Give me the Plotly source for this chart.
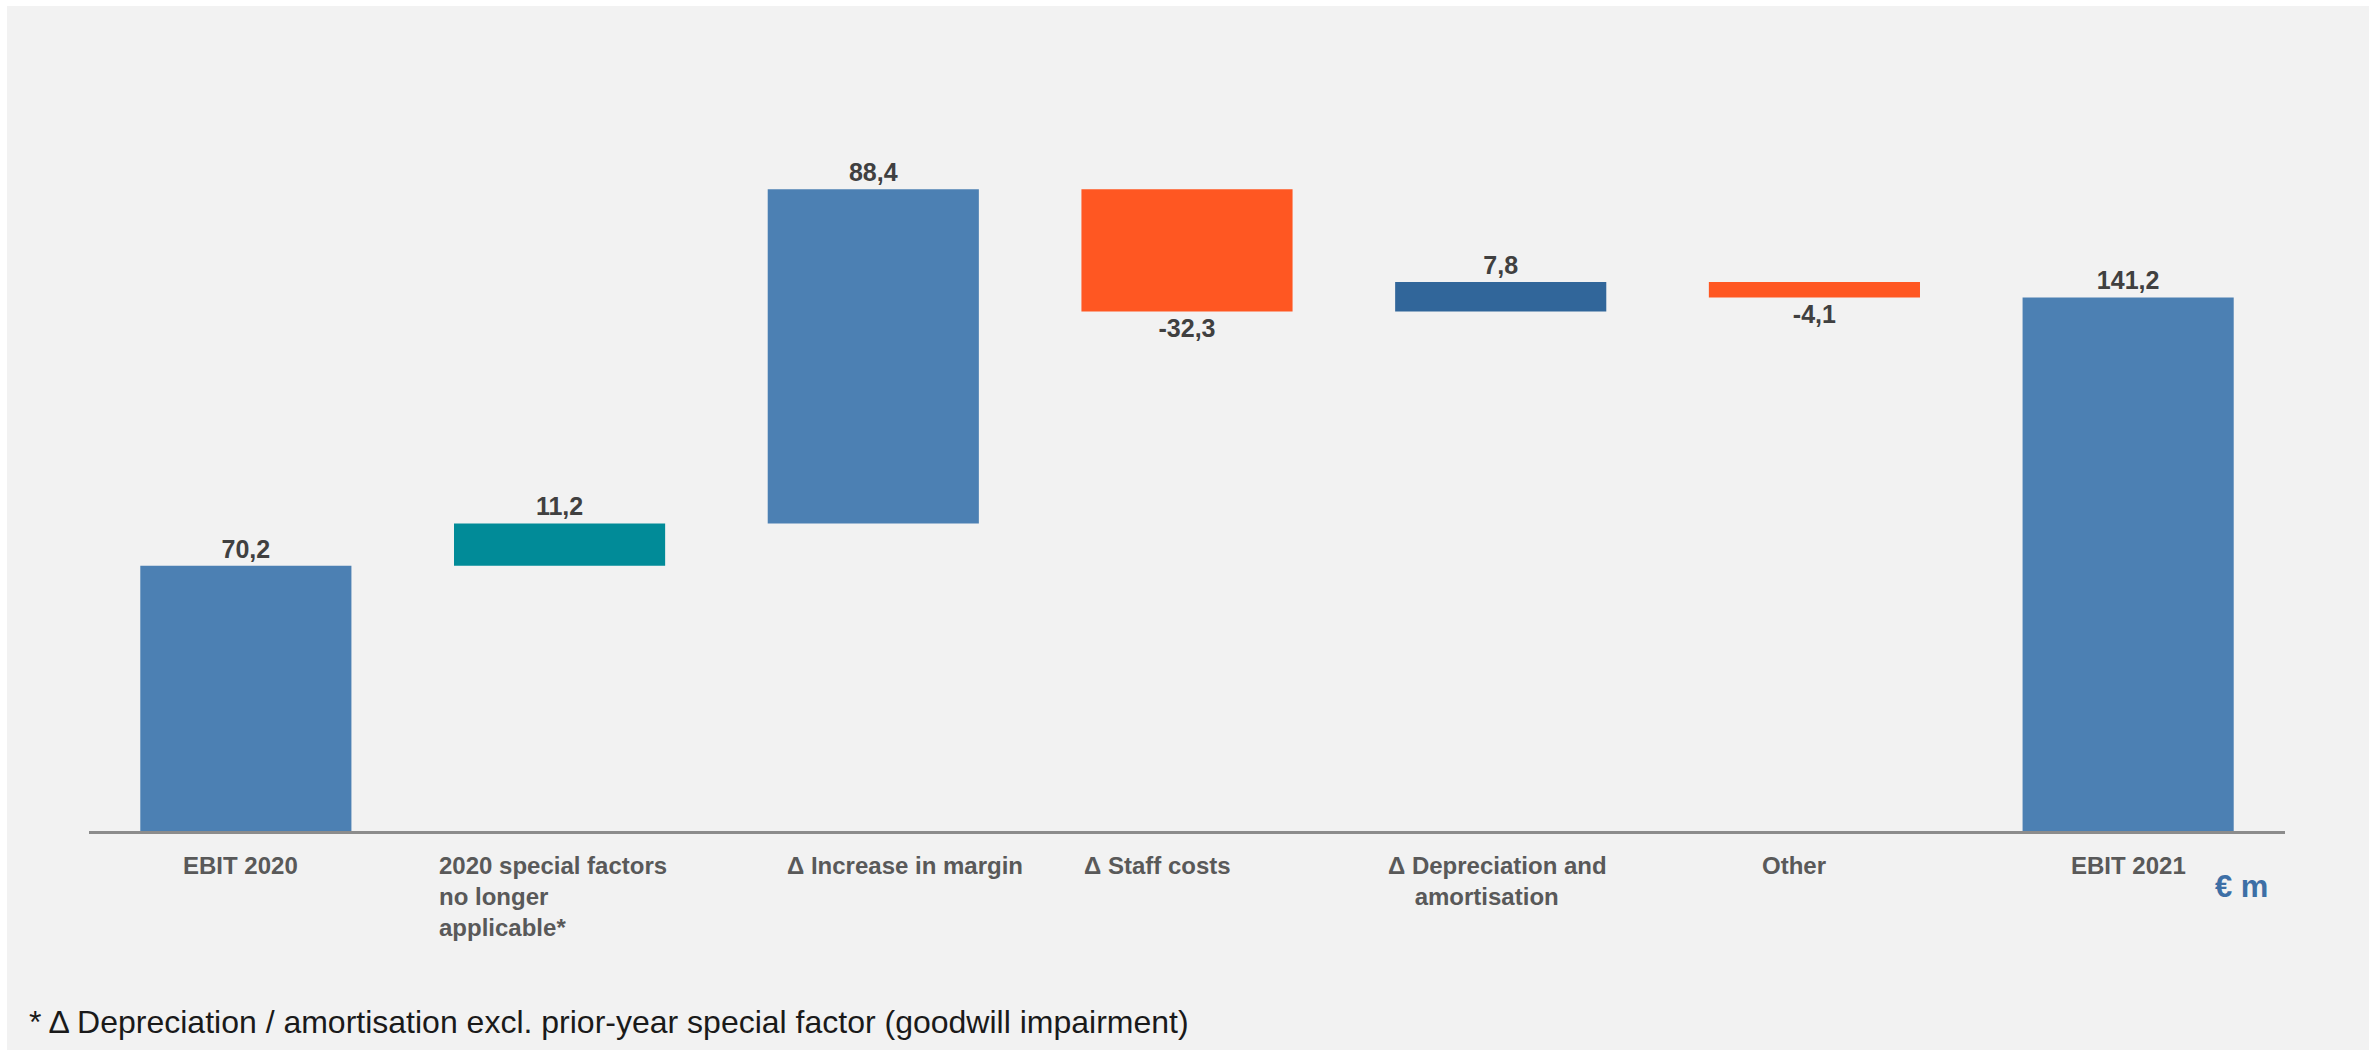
import plotly.graph_objects as go

# ---- data ----
categories = [
    "EBIT 2020",
    "2020 special factors<br>no longer<br>applicable*",
    "Δ Increase in margin",
    "Δ Staff costs",
    "Δ Depreciation and<br>\u00a0\u00a0\u00a0\u00a0amortisation",
    "Other",
    "EBIT 2021",
]
values = [70.2, 11.2, 88.4, -32.3, 7.8, -4.1, 141.2]
kinds = ["total", "delta", "delta", "delta", "delta", "delta", "total"]
bar_colors = ["#4c80b3", "#018b98", "#4c80b3", "#ff5722", "#31669a", "#ff5722", "#4c80b3"]
footnote = "* Δ Depreciation / amortisation excl. prior-year special factor (goodwill impairment)"
unit_label = "€ m"

# ---- style ----
label_xshift = [-5, -7, 32, -30, -3, -20, 0]
W, H = 2379, 1054
L, R, T, B = 89, 94, 113, 223
PW, PH = W - L - R, H - T - B
FONT = "Liberation Sans, Arial, sans-serif"

# ---- build waterfall via base + height ----
bases, heights = [], []
running = 0.0
for v, k in zip(values, kinds):
    if k == "total":
        bases.append(0.0)
        heights.append(v)
        running = v
    else:
        bases.append(running)
        heights.append(v)
        running += v

texts = [f"{v:.1f}".replace(".", ",") for v in values]
xs = list(range(len(categories)))

fig = go.Figure()
fig.add_trace(go.Bar(
    x=xs, y=heights, base=bases,
    marker=dict(color=bar_colors, line=dict(width=0)),
    width=0.673,
    text=texts, textposition="outside",
    textfont=dict(family=FONT, size=25, color="#404040", weight="bold"),
    cliponaxis=False,
    hoverinfo="skip",
))

def px_to_paper_x(px):
    return (px - L) / PW

def px_to_paper_y(py):
    return (H - B - py) / PH

shapes = [dict(
    type="rect", xref="paper", yref="paper", layer="below",
    x0=px_to_paper_x(7), x1=px_to_paper_x(2369),
    y0=px_to_paper_y(1050), y1=px_to_paper_y(6),
    fillcolor="#f2f2f2", line=dict(width=0),
)]

annotations = []
for i, (cat, sh) in enumerate(zip(categories, label_xshift)):
    annotations.append(dict(
        x=i, xref="x", y=px_to_paper_y(850), yref="paper",
        xanchor="center", yanchor="top", align="left",
        text=f"<b>{cat}</b>", showarrow=False, xshift=sh,
        font=dict(family=FONT, size=24, color="#595959"),
    ))
annotations.append(dict(
    x=px_to_paper_x(27), xref="paper", y=px_to_paper_y(1022), yref="paper",
    xanchor="left", yanchor="middle", text=footnote, showarrow=False,
    font=dict(family=FONT, size=32, color="#1a1a1a"),
))
annotations.append(dict(
    x=px_to_paper_x(2241), xref="paper", y=px_to_paper_y(886), yref="paper",
    xanchor="center", yanchor="middle", text=f"<b>{unit_label}</b>", showarrow=False,
    font=dict(family=FONT, size=31, color="#3d6fa6"),
))

fig.update_layout(
    width=W, height=H,
    margin=dict(l=L, r=R, t=T, b=B, pad=0),
    paper_bgcolor="white", plot_bgcolor="rgba(0,0,0,0)",
    showlegend=False,
    bargap=0.327,
    shapes=shapes,
    annotations=annotations,
    xaxis=dict(range=[-0.5, len(categories) - 0.5], showticklabels=False, ticks="",
               showgrid=False, zeroline=False, showline=True,
               linecolor="#8c8c8c", linewidth=3, fixedrange=True),
    yaxis=dict(range=[0, 190], visible=False, showgrid=False, zeroline=False, fixedrange=True),
)

fig.write_html("out.html", config={"displayModeBar": False})
